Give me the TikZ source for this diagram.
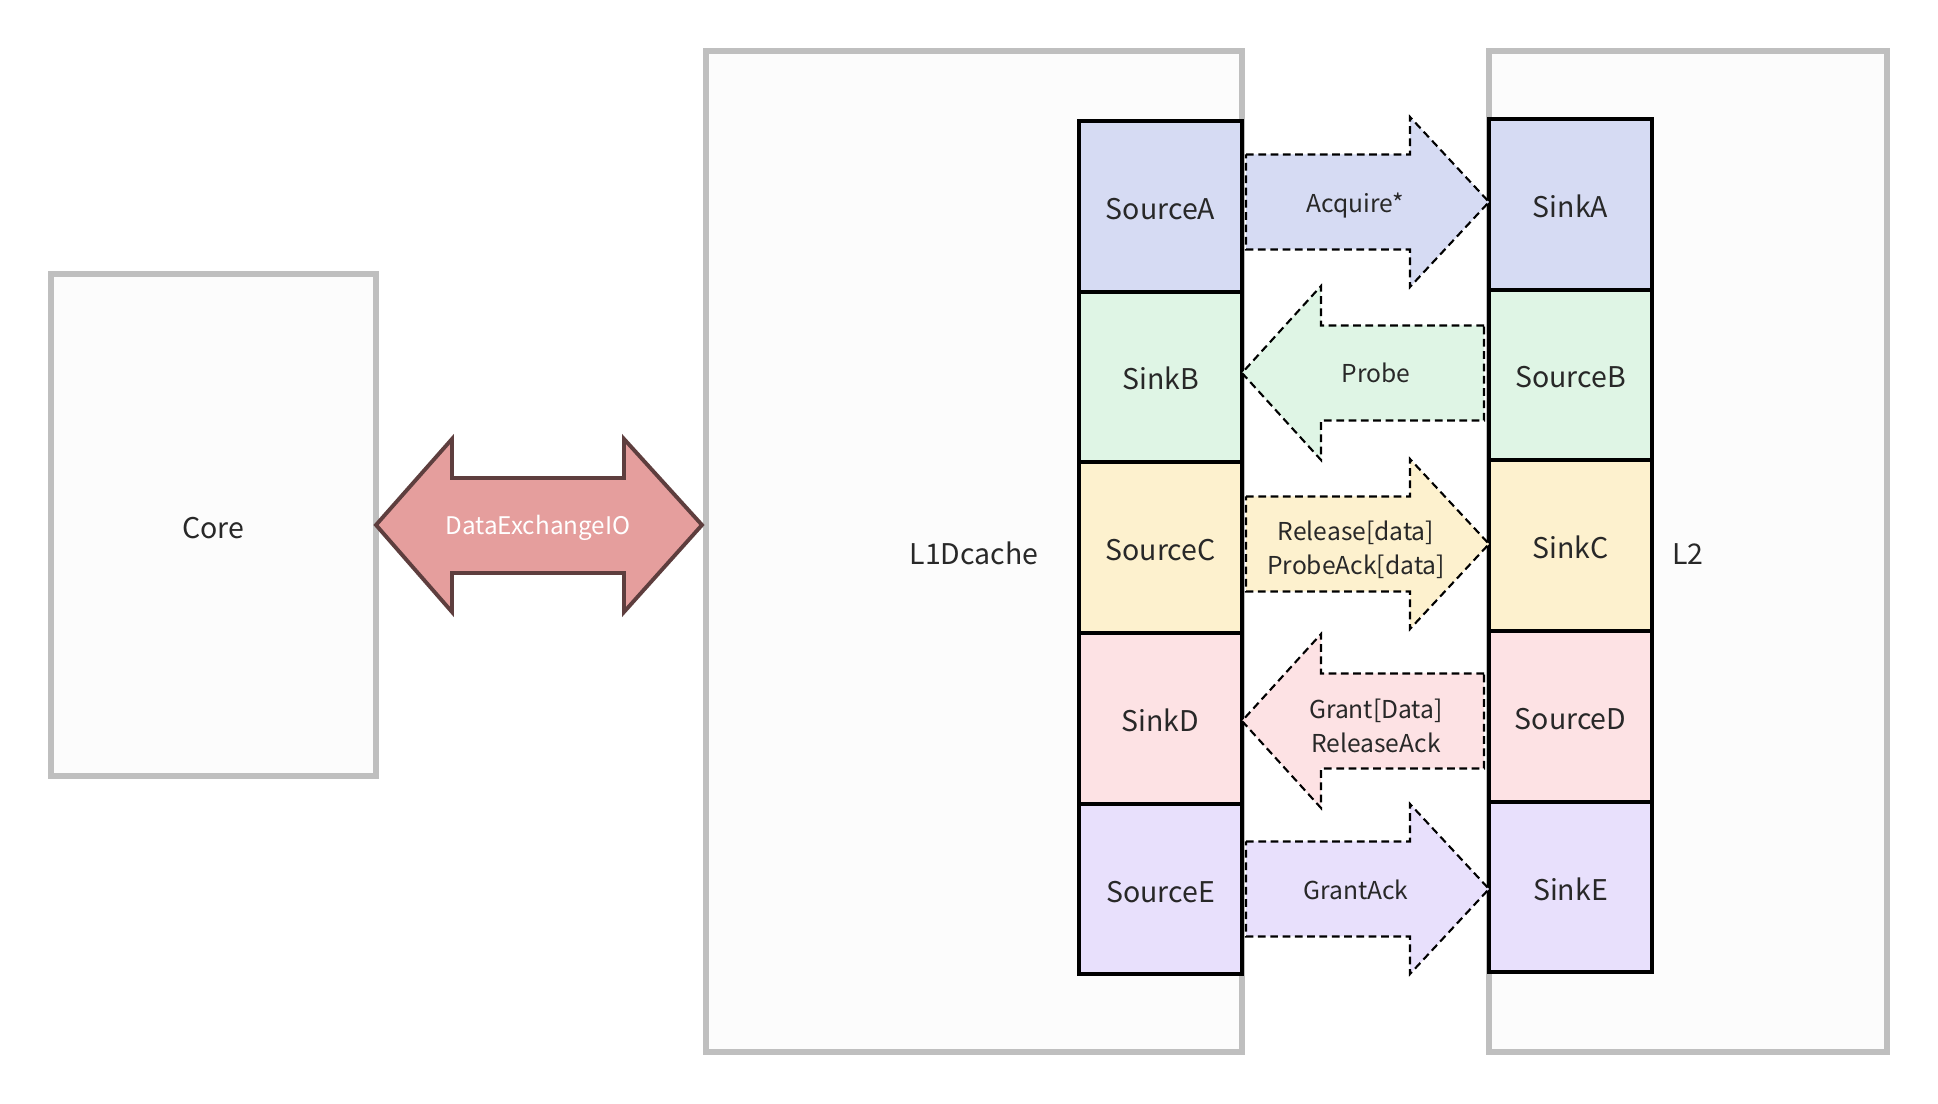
\documentclass[tikz,border=0pt]{standalone}
\usepackage{fontspec}
\setmainfont{Noto Sans CJK SC}
\usetikzlibrary{positioning}

\definecolor{chanA}{RGB}{214,219,243}
\definecolor{chanB}{RGB}{223,245,229}
\definecolor{chanC}{RGB}{253,241,206}
\definecolor{chanD}{RGB}{253,226,228}
\definecolor{chanE}{RGB}{232,224,252}
\definecolor{boxgray}{RGB}{191,191,191}
\definecolor{boxfill}{RGB}{252,252,252}
\definecolor{iofill}{RGB}{229,158,157}
\definecolor{iodraw}{RGB}{94,62,62}
\definecolor{txt}{RGB}{40,40,40}

\begin{document}
\begin{tikzpicture}[x=0.01cm, y=-0.01cm,
	container/.style = {draw=boxgray, fill=boxfill, line width=1.7pt, inner sep=0, text=txt,
		text height=7.4pt, text depth=0pt, font=\fontsize{8.1}{10}\selectfont},
	chan/.style = {draw=black, line width=1.1pt, inner sep=0, outer sep=0, text=txt,
		text height=7.4pt, text depth=0pt,
		minimum width=1.63cm, minimum height=1.706cm, font=\fontsize{8.1}{10}\selectfont},
	chan arrow/.style = {draw=black, line width=0.6pt, dash pattern=on 2.2pt off 1.3pt},
	arrow label/.style = {align=center, text=txt, font=\fontsize{7}{9.8}\selectfont},
	io arrow/.style = {draw=iodraw, fill=iofill, line width=1.1pt, line join=miter}]

	\useasboundingbox[fill=white] (0,0) rectangle (1938,1104);

	% containers
	\node[container, minimum width=3.25cm, minimum height=5.02cm] (core) at (213.5,525) {Core};
	\node[container, minimum width=5.36cm, minimum height=10.01cm] (l1) at (974,551.5) {L1Dcache};
	\node[container, minimum width=3.98cm, minimum height=10.01cm] (l2) at (1688,551.5) {L2};

	% L1 side channels
	\node[chan, fill=chanA] (srcA) at (1160.5,206.3) {SourceA};
	\node[chan, fill=chanB, below=0pt of srcA] (sinkB) {SinkB};
	\node[chan, fill=chanC, below=0pt of sinkB] (srcC) {SourceC};
	\node[chan, fill=chanD, below=0pt of srcC] (sinkD) {SinkD};
	\node[chan, fill=chanE, below=0pt of sinkD] (srcE) {SourceE};

	% L2 side channels
	\node[chan, fill=chanA] (sinkA) at (1570.5,204.3) {SinkA};
	\node[chan, fill=chanB, below=0pt of sinkA] (srcB) {SourceB};
	\node[chan, fill=chanC, below=0pt of srcB] (sinkC) {SinkC};
	\node[chan, fill=chanD, below=0pt of sinkC] (srcD) {SourceD};
	\node[chan, fill=chanE, below=0pt of srcD] (sinkE) {SinkE};

	% core <-> L1
	\draw[io arrow] (376,525) -- (452,439) -- (452,478) -- (624,478) -- (624,439) -- (702,525)
		-- (624,612) -- (624,573) -- (452,573) -- (452,612) -- cycle;
	\node[font=\fontsize{6.9}{9}\selectfont, text=white] (io) at (538,528) {DataExchangeIO};

	% tilelink channels
	\draw[chan arrow, fill=chanA] (1246,154.5) -- (1410,154.5) -- (1410,117) -- (1489,202)
		-- (1410,287) -- (1410,249.5) -- (1246,249.5) -- cycle;
	\draw[chan arrow, fill=chanB] (1484,325.5) -- (1321,325.5) -- (1321,286) -- (1242,373)
		-- (1321,460) -- (1321,420.5) -- (1484,420.5) -- cycle;
	\draw[chan arrow, fill=chanC] (1246,496.5) -- (1410,496.5) -- (1410,459) -- (1489,544)
		-- (1410,629) -- (1410,591.5) -- (1246,591.5) -- cycle;
	\draw[chan arrow, fill=chanD] (1484,673.5) -- (1321,673.5) -- (1321,634) -- (1242,721)
		-- (1321,808) -- (1321,768.5) -- (1484,768.5) -- cycle;
	\draw[chan arrow, fill=chanE] (1246,841.5) -- (1410,841.5) -- (1410,804) -- (1489,889)
		-- (1410,974) -- (1410,936.5) -- (1246,936.5) -- cycle;

	\node[arrow label] (acq) at (1355,206) {Acquire*};
	\node[arrow label] (probe) at (1376,373) {Probe};
	\node[arrow label] (rel) at (1356,550) {Release[data]\\ProbeAck[data]};
	\node[arrow label] (grant) at (1376,726) {Grant[Data]\\ReleaseAck};
	\node[arrow label] (gack) at (1356,890) {GrantAck};
\end{tikzpicture}
\end{document}
